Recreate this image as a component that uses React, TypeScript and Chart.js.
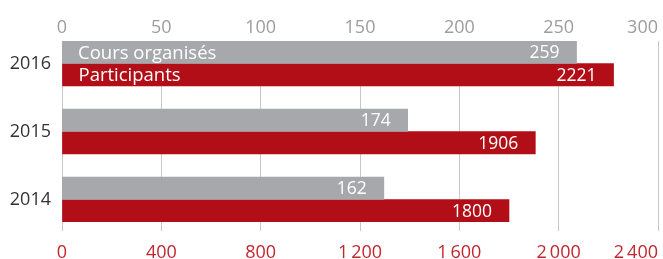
import React, { useEffect, useRef } from "react";
import { Chart, registerables } from "chart.js";

Chart.register(...registerables);

const years = ["2016", "2015", "2014"];
const seriesNames = ["Cours organisés", "Participants"];
const cours = [259, 174, 162];
const participants = [2221, 1906, 1800];
const topTicks = ["0", "50", "100", "150", "200", "250", "300"];
const bottomTicks = ["0", "400", "800", "1\u2009200", "1\u2009600", "2\u2009000", "2\u2009400"];

const GRAY = "#a7a8ab";
const RED = "#b20e17";
const FONT = "'Open Sans', sans-serif";
const Y_MIN = -0.331;
const Y_MAX = 2.331;

const barLabels = {
  id: "barLabels",
  afterDatasetsDraw(chart: any) {
    const ctx = chart.ctx;
    ctx.save();
    ctx.fillStyle = "#ffffff";
    ctx.textBaseline = "middle";
    chart.data.datasets.forEach((ds: any, di: number) => {
      const meta = chart.getDatasetMeta(di);
      meta.data.forEach((bar: any, i: number) => {
        const v = ds.data[i].x;
        ctx.font = `17.5px ${FONT}`;
        ctx.textAlign = "right";
        ctx.fillText(String(v), bar.x - 17, bar.y + 1);
        if (i === 0) {
          ctx.font = `18.5px ${FONT}`;
          ctx.textAlign = "left";
          ctx.fillText(seriesNames[di], bar.base + 16, bar.y + 1);
        }
      });
    });
    ctx.restore();
  },
};

const centerFirstTick = {
  id: "centerFirstTick",
  beforeDraw(chart: any) {
    ["x", "xTop"].forEach((id) => {
      const s = chart.scales[id];
      if (!s || !s.getLabelItems) return;
      const items = s.getLabelItems(chart.chartArea);
      if (items && items[0]) items[0].options.textAlign = "center";
    });
  },
};

export default function App() {
  const ref = useRef<HTMLCanvasElement>(null);
  useEffect(() => {
    if (!ref.current) return;
    const chart = new Chart(ref.current, {
      type: "bar",
      data: {
        datasets: [
          {
            label: seriesNames[0],
            data: cours.map((v, i) => ({ x: v, y: i })),
            backgroundColor: GRAY,
            xAxisID: "xTop",
            yAxisID: "y",
            barThickness: 22.5,
          },
          {
            label: seriesNames[1],
            data: participants.map((v, i) => ({ x: v, y: i })),
            backgroundColor: RED,
            xAxisID: "x",
            yAxisID: "y",
            barThickness: 22.5,
          },
        ],
      } as any,
      options: {
        indexAxis: "y",
        responsive: false,
        animation: false,
        layout: { padding: { left: 0, right: 5, top: 0, bottom: 0 } },
        plugins: { legend: { display: false }, tooltip: { enabled: false } },
        scales: {
          y: {
            type: "linear",
            reverse: true,
            offset: false,
            bounds: "data",
            min: Y_MIN,
            max: Y_MAX,
            afterBuildTicks: (axis: any) => {
              axis.ticks = years.map((_, i) => ({ value: i }));
              axis.min = Y_MIN;
              axis.max = Y_MAX;
            },
            afterFit: (axis: any) => {
              axis.width = 62;
              axis.paddingTop = 0;
              axis.paddingBottom = 0;
            },
            grid: { display: false, offset: false },
            border: { display: false },
            ticks: {
              padding: 3,
              color: "#333333",
              font: { family: FONT, size: 18 },
              callback: (v: any) => years[v] ?? "",
            },
          },
          x: {
            type: "linear",
            position: "bottom",
            min: 0,
            max: 2400,
            afterBuildTicks: (axis: any) => {
              axis.ticks = bottomTicks.map((_, i) => ({ value: i * 400 }));
            },
            afterFit: (axis: any) => {
              axis.height = 37;
              axis.paddingLeft = 0;
              axis.paddingRight = 0;
            },
            grid: { color: "#c8c8c8", lineWidth: 1, tickLength: 9, drawTicks: true },
            border: { display: false },
            ticks: {
              align: "inner",
              padding: 11,
              color: "#c1272d",
              font: { family: FONT, size: 18 },
              callback: (v: any) => bottomTicks[Math.round(v / 400)] ?? "",
            },
          },
          xTop: {
            type: "linear",
            position: "top",
            min: 0,
            max: 300,
            afterBuildTicks: (axis: any) => {
              axis.ticks = topTicks.map((_, i) => ({ value: i * 50 }));
            },
            afterFit: (axis: any) => {
              axis.height = 41;
              axis.paddingLeft = 0;
              axis.paddingRight = 0;
            },
            grid: { display: false },
            border: { display: false },
            ticks: {
              align: "inner",
              padding: -6,
              color: "#9d9d9d",
              font: { family: FONT, size: 18 },
              callback: (v: any) => topTicks[Math.round(v / 50)] ?? "",
            },
          },
        },
      } as any,
      plugins: [barLabels, centerFirstTick],
    });
    return () => chart.destroy();
  }, []);
  return (
    <div style={{ position: "absolute", left: 0, top: 0, width: 663, height: 259, background: "#fff" }}>
      <canvas ref={ref} width={663} height={259} style={{ width: 663, height: 259 }} />
    </div>
  );
}
